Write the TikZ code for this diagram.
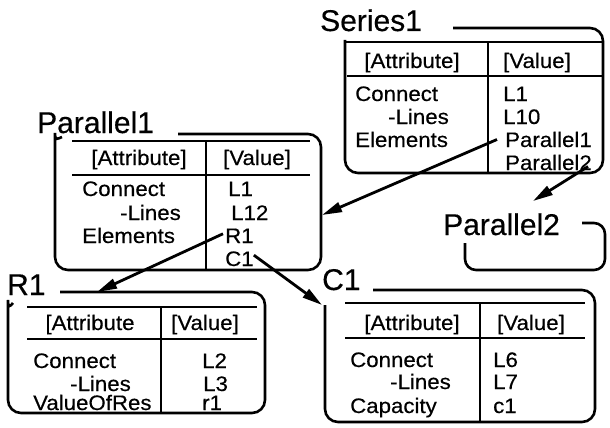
\documentclass[tikz,border=0pt]{standalone}
\usepackage{fontspec}
\setmainfont{Liberation Sans}
\newfontfamily\cellfam[FakeStretch=1.06,FakeBold=0.4]{Liberation Sans}
\newfontfamily\titlefam[FakeBold=0.4]{Liberation Sans}
\usetikzlibrary{arrows.meta,calc}
\newcommand{\titlefnt}{\titlefam\fontsize{30}{30}\selectfont}
\newcommand{\cellfnt}{\cellfam\fontsize{21}{21}\selectfont}
\tikzset{
  frame/.style={line width=2.6pt, rounded corners=13pt},
  tline/.style={line width=1.8pt},
  vline/.style={line width=1.2pt},
  title/.style={font=\titlefnt, anchor=base west, inner sep=0pt},
  cell/.style={font=\cellfnt, anchor=base west, inner sep=0pt},
  head/.style={font=\cellfnt, anchor=base, inner sep=0pt},
  link/.style={line width=2.8pt, -{Triangle[length=20pt,width=10pt]}}
}
\begin{document}
\begin{tikzpicture}[x=1pt,y=-1pt]
\useasboundingbox (0,0) rectangle (610,428);
% ---------- Series1 ----------
\node[title] (s-t) at (320,31) {Series1};
\draw[frame] (453,28) -- (603,28) -- (603,173) -- (345,173) -- (345,40);
\draw[tline] (345,42) -- (603,42);
\draw[tline] (347,76) -- (603,76);
\draw[vline] (488,42) -- (488,173);
\node[head] (s-ha) at (412,68) {[Attribute]};
\node[head] (s-hv) at (537,68) {[Value]};
\node[cell] (s-c) at (355,101) {Connect};
\node[cell] (s-l) at (388,124) {-Lines};
\node[cell] (s-e) at (355,147) {Elements};
\node[cell] (s-v1) at (503,101) {L1};
\node[cell] (s-v2) at (503,124) {L10};
\node[cell] (s-p1) at (505,147) {Parallel1};
\node[cell] (s-p2) at (505,170) {Parallel2};
% ---------- Parallel1 ----------
\node[title] (p1-t) at (37,133) {Parallel1};
\draw[frame] (178,134) -- (321,134) -- (321,270) -- (55,270) -- (55,146) to[out=90,in=200] (62,137);
\draw[tline] (72,141) -- (310,141);
\draw[tline] (72,175) -- (310,175);
\draw[vline] (206,141) -- (206,270);
\node[head] (p1-ha) at (139,165) {[Attribute]};
\node[head] (p1-hv) at (257,165) {[Value]};
\node[cell] (p1-c) at (82,196) {Connect};
\node[cell] (p1-l) at (120,220) {-Lines};
\node[cell] (p1-e) at (82,243) {Elements};
\node[cell] (p1-v1) at (228,196) {L1};
\node[cell] (p1-v2) at (231,220) {L12};
\node[cell] (p1-r1) at (225,243) {R1};
\node[cell] (p1-c1) at (225,266) {C1};
% ---------- Parallel2 ----------
\node[title] (p2-t) at (443,235) {Parallel2};
\draw[frame, rounded corners=11pt] (582,223) -- (605,223) -- (605,270) -- (465,270) -- (465,243);
% ---------- R1 ----------
\node[title] (r-t) at (7,295) {R1};
\draw[frame] (60,292) -- (265,292) -- (265,413) -- (8,413) -- (8,313) to[out=90,in=230] (13,303);
\draw[tline] (27,307) -- (257,307);
\draw[tline] (27,339) -- (257,339);
\draw[vline] (161,307) -- (161,413);
\node[head] (r-ha) at (90,330) {[Attribute};
\node[head] (r-hv) at (205,330) {[Value]};
\node[cell] (r-c) at (33,368) {Connect};
\node[cell] (r-l) at (70,391) {-Lines};
\node[cell] (r-e) at (33,410) {ValueOfRes};
\node[cell] (r-v1) at (202,368) {L2};
\node[cell] (r-v2) at (203,391) {L3};
\node[cell] (r-v3) at (202,410) {r1};
% ---------- C1 ----------
\node[title] (c-t) at (322,290) {C1};
\draw[frame] (373,290) -- (595,290) -- (595,422) -- (325,422) -- (325,305);
\draw[tline] (345,303) -- (585,303);
\draw[tline] (345,338) -- (585,338);
\draw[vline] (480,303) -- (480,422);
\node[head] (c-ha) at (412,330) {[Attribute]};
\node[head] (c-hv) at (531,330) {[Value]};
\node[cell] (c-c) at (350,367) {Connect};
\node[cell] (c-l) at (390,389) {-Lines};
\node[cell] (c-e) at (350,413) {Capacity};
\node[cell] (c-v1) at (493,367) {L6};
\node[cell] (c-v2) at (493,389) {L7};
\node[cell] (c-v3) at (493,413) {c1};
% ---------- connectors ----------
\coordinate (p1in) at (322,215);
\coordinate (p2in) at (533,201);
\coordinate (r1in) at (97,292);
\coordinate (c1in) at (322,305);
\draw[link] ($(s-p1.west)+(-8,0)$) -- (p1in);
\draw[link] ($(s-p2.east)+(-4,4)$) -- (p2in);
\draw[link] ($(p1-r1.west)+(-2,-2)$) -- (r1in);
\draw[link] ($(p1-c1.north east)+(0,4)$) -- (c1in);
\end{tikzpicture}
\end{document}
